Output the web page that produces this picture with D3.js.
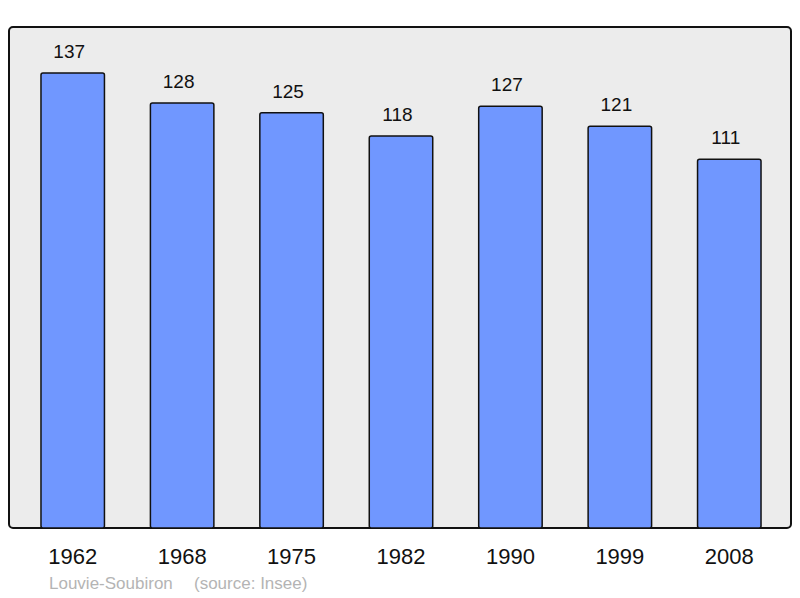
<!DOCTYPE html>
<html>
<head>
<meta charset="utf-8">
<script src="https://cdn.jsdelivr.net/npm/d3@7"></script>
<style>
  body { margin: 0; background: #fff; }
  text { font-family: "Liberation Sans", Arial, sans-serif; }
</style>
</head>
<body>
<div id="chart"></div>
<script>
// data
var years = ["1962", "1968", "1975", "1982", "1990", "1999", "2008"];
var population = [137, 128, 125, 118, 127, 121, 111];
var commune = "Louvie-Soubiron";
var source = "(source: Insee)";

var svgWidth = 800, svgHeight = 598;

var svg = d3.select("#chart")
  .append("svg")
  .attr("width", svgWidth)
  .attr("height", svgHeight);

// background panel
svg.append("rect")
  .attr("x", 9)
  .attr("y", 27)
  .attr("width", 782)
  .attr("height", 501)
  .attr("rx", 4)
  .attr("fill", "#ececec")
  .attr("stroke", "#111")
  .attr("stroke-width", 2);

// scales
var xScale = d3.scaleBand()
  .domain(years)
  .range([18, 784])
  .paddingInner(0.42)
  .paddingOuter(0.21);

var yScale = d3.scaleLinear()
  .domain([0, 137])
  .range([528, 73]);

// bars
svg.append("g")
  .selectAll("rect")
  .data(population)
  .enter()
  .append("rect")
  .attr("x", (d, i) => xScale(years[i]))
  .attr("y", d => yScale(d))
  .attr("width", xScale.bandwidth())
  .attr("height", d => yScale(0) - yScale(d))
  .attr("rx", 2)
  .attr("fill", "#7097ff")
  .attr("stroke", "#111")
  .attr("stroke-width", 1.5);

// value labels (sit a little left of the bar centre, as in the original)
svg.append("g")
  .selectAll("text")
  .data(population)
  .enter()
  .append("text")
  .attr("x", (d, i) => xScale(years[i]) + xScale.bandwidth() / 2 - 3.5)
  .attr("y", d => yScale(d) - 15)
  .attr("text-anchor", "middle")
  .attr("font-size", 19)
  .attr("fill", "#111")
  .text(d => d);

// x axis labels
var xAxis = d3.axisBottom(xScale).tickSize(0).tickPadding(0);
var axisG = svg.append("g")
  .attr("transform", "translate(0, 528)")
  .call(xAxis);
axisG.select(".domain").remove();
axisG.selectAll("text")
  .attr("y", 36)
  .attr("dy", 0)
  .attr("font-size", 22)
  .attr("font-family", "Liberation Sans, Arial, sans-serif")
  .attr("fill", "#111");

// footer
svg.append("text")
  .attr("x", 49)
  .attr("y", 589)
  .attr("font-size", 17)
  .attr("fill", "#b4b4b4")
  .text(commune);

svg.append("text")
  .attr("x", 194)
  .attr("y", 589)
  .attr("font-size", 17)
  .attr("fill", "#b4b4b4")
  .text(source);
</script>
</body>
</html>
